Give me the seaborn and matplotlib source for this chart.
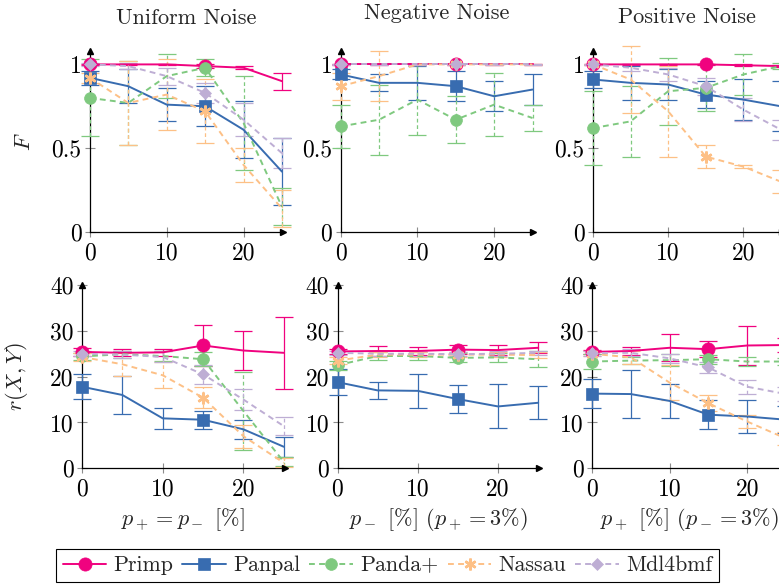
import pandas as pd
import seaborn as sns
import matplotlib.pyplot as plt
from matplotlib.lines import Line2D
from matplotlib.colors import to_hex

sns.set_theme(style="ticks", context="paper")
plt.rcParams["font.family"] = ["cmr10", "DejaVu Serif"]
plt.rcParams["mathtext.fontset"] = "cm"
plt.rcParams["axes.formatter.use_mathtext"] = True

x_vals = [0, 5, 10, 15, 20, 25]
methods = ["Primp", "Panpal", "Panda+", "Nassau", "Mdl4bmf"]
colors = {"Primp": "#f0027f", "Panpal": "#386cb0", "Panda+": "#7fc97f",
          "Nassau": "#fdc086", "Mdl4bmf": "#beaed4"}

# F score, mean and error
f_uniform = {
    "Primp": [1.0, 1.0, 1.0, 0.99, 0.98, 0.90],
    "Panpal": [0.92, 0.87, 0.76, 0.75, 0.61, 0.36],
    "Panda+": [0.80, 0.77, 0.93, 0.98, 0.65, 0.15],
    "Nassau": [0.92, 0.77, 0.82, 0.72, 0.40, 0.14],
    "Mdl4bmf": [1.0, 0.99, 0.93, 0.83, 0.67, 0.47],
}
f_uniform_err = {
    "Primp": [0.005, 0.005, 0.005, 0.01, 0.01, 0.05],
    "Panpal": [0.04, 0.10, 0.10, 0.12, 0.17, 0.20],
    "Panda+": [0.23, 0.25, 0.13, 0.05, 0.28, 0.11],
    "Nassau": [0.03, 0.25, 0.21, 0.19, 0.10, 0.11],
    "Mdl4bmf": [0.01, 0.02, 0.05, 0.06, 0.10, 0.09],
}
f_negative = {
    "Primp": [1.0, 1.0, 1.0, 1.0, 1.0, 1.0],
    "Panpal": [0.94, 0.89, 0.89, 0.87, 0.81, 0.85],
    "Panda+": [0.63, 0.67, 0.79, 0.67, 0.76, 0.68],
    "Nassau": [0.87, 0.93, 1.0, 1.0, 1.0, 1.0],
    "Mdl4bmf": [1.0, 1.0, 1.0, 1.0, 1.0, 1.0],
}
f_negative_err = {
    "Primp": [0.005, 0.005, 0.005, 0.005, 0.005, 0.005],
    "Panpal": [0.03, 0.05, 0.10, 0.09, 0.09, 0.09],
    "Panda+": [0.13, 0.21, 0.21, 0.14, 0.19, 0.08],
    "Nassau": [0.08, 0.15, 0.005, 0.005, 0.005, 0.005],
    "Mdl4bmf": [0.005, 0.005, 0.005, 0.005, 0.005, 0.005],
}
f_positive = {
    "Primp": [1.0, 1.0, 1.0, 1.0, 0.995, 0.99],
    "Panpal": [0.91, 0.89, 0.88, 0.82, 0.79, 0.75],
    "Panda+": [0.62, 0.66, 0.84, 0.86, 0.94, 0.99],
    "Nassau": [1.0, 0.91, 0.72, 0.45, 0.39, 0.30],
    "Mdl4bmf": [1.0, 0.98, 0.94, 0.87, 0.73, 0.61],
}
f_positive_err = {
    "Primp": [0.005, 0.005, 0.005, 0.005, 0.005, 0.005],
    "Panpal": [0.05, 0.10, 0.09, 0.08, 0.12, 0.15],
    "Panda+": [0.22, 0.21, 0.20, 0.14, 0.12, 0.02],
    "Nassau": [0.005, 0.20, 0.27, 0.07, 0.01, 0.07],
    "Mdl4bmf": [0.005, 0.02, 0.04, 0.05, 0.07, 0.06],
}

# r(X, Y), mean and error
r_uniform = {
    "Primp": [25.4, 25.2, 25.3, 26.8, 25.7, 25.2],
    "Panpal": [17.8, 16.0, 10.9, 10.6, 8.5, 4.7],
    "Panda+": [24.4, 24.9, 24.5, 23.8, 12.5, 1.4],
    "Nassau": [24.3, 22.7, 20.3, 15.4, 7.0, 1.2],
    "Mdl4bmf": [25.0, 24.8, 24.3, 20.5, 15.0, 9.2],
}
r_uniform_err = {
    "Primp": [0.8, 0.8, 0.8, 4.5, 4.2, 7.8],
    "Panpal": [2.7, 4.1, 2.3, 2.0, 2.0, 2.2],
    "Panda+": [0.8, 0.8, 1.0, 1.5, 8.5, 1.0],
    "Nassau": [0.8, 2.5, 2.8, 2.3, 2.5, 1.0],
    "Mdl4bmf": [0.6, 0.8, 1.2, 2.0, 2.3, 2.0],
}
r_negative = {
    "Primp": [25.5, 25.6, 25.6, 25.9, 25.8, 26.3],
    "Panpal": [18.8, 17.0, 16.9, 15.1, 13.5, 14.3],
    "Panda+": [22.5, 24.5, 24.5, 24.1, 24.2, 23.8],
    "Nassau": [23.5, 24.8, 24.8, 24.8, 24.8, 24.7],
    "Mdl4bmf": [25.2, 25.0, 25.0, 24.9, 25.0, 25.2],
}
r_negative_err = {
    "Primp": [0.5, 1.0, 0.8, 0.9, 1.0, 1.2],
    "Panpal": [2.8, 1.9, 3.7, 3.1, 4.8, 3.6],
    "Panda+": [1.0, 0.8, 0.8, 1.0, 0.9, 1.8],
    "Nassau": [0.8, 0.6, 0.6, 0.6, 0.6, 0.6],
    "Mdl4bmf": [0.4, 0.5, 0.5, 0.5, 0.5, 0.5],
}
r_positive = {
    "Primp": [25.4, 25.6, 26.3, 26.0, 26.8, 26.9],
    "Panpal": [16.3, 16.2, 14.7, 11.7, 11.3, 10.6],
    "Panda+": [23.3, 23.5, 23.6, 23.8, 23.3, 23.3],
    "Nassau": [25.0, 24.2, 18.7, 14.2, 10.2, 6.5],
    "Mdl4bmf": [25.1, 25.2, 24.0, 22.0, 17.8, 16.2],
}
r_positive_err = {
    "Primp": [0.5, 0.8, 2.9, 1.7, 4.3, 1.5],
    "Panpal": [3.1, 5.3, 3.8, 3.2, 3.6, 3.0],
    "Panda+": [1.7, 0.8, 1.3, 1.0, 0.9, 0.8],
    "Nassau": [0.5, 1.5, 3.8, 1.8, 1.4, 1.5],
    "Mdl4bmf": [0.6, 0.8, 1.0, 1.3, 1.5, 1.5],
}

titles = ["Uniform Noise", "Negative Noise", "Positive Noise"]
xlabels = [r"$p_+ = p_-$ [%]", r"$p_-$ [%] ($p_+ = 3\%$)", r"$p_+$ [%] ($p_- = 3\%$)"]

markers = {"Primp": "o", "Panpal": "s", "Panda+": "o", "Nassau": "*", "Mdl4bmf": "D"}
dash = (3, 2.2)
dashes = {"Primp": "", "Panpal": "", "Panda+": dash, "Nassau": dash, "Mdl4bmf": dash}
msizes = {"Primp": 9.5, "Panpal": 8.5, "Panda+": 8.5, "Nassau": 8.5, "Mdl4bmf": 6.5}

W, H = 779, 585
fig = plt.figure(figsize=(W / 100, H / 100), dpi=100)

# axes rectangles in pixels: left, x=0 .. x=25 width, y=0 line (from top), height
rects = [
    (89.8, 192.2, 232, 181), (340.7, 191.8, 232, 181), (593, 188, 232, 181),
    (82, 201.8, 468.3, 183.3), (337.5, 200.7, 468.3, 183.3), (592, 194, 468.3, 183.3),
]
panels = [
    (f_uniform, f_uniform_err), (f_negative, f_negative_err), (f_positive, f_positive_err),
    (r_uniform, r_uniform_err), (r_negative, r_negative_err), (r_positive, r_positive_err),
]
title_y = [1.149, 1.175, 1.155]

for i, ((means, errs), (left, width, y0, height)) in enumerate(zip(panels, rects)):
    ax = fig.add_axes([left / W, (H - y0) / H, width / W, height / H])
    top = i < 3

    for m in methods:
        eb = ax.errorbar(x_vals, means[m], yerr=errs[m], fmt="none", ecolor=colors[m],
                         elinewidth=0.9, capsize=6.5, capthick=0.9, clip_on=False, zorder=2)
        for c in eb[1]:
            c.set_clip_on(False)
        for c in eb[2]:
            c.set_clip_on(False)
            if dashes[m]:
                c.set_linestyle((0, dash))

    df = pd.DataFrame([
        {"x": x, "value": v, "method": m}
        for m in methods for x, v in zip(x_vals, means[m])
    ])
    sns.lineplot(data=df, x="x", y="value", hue="method", style="method",
                 hue_order=methods, style_order=methods, palette=colors,
                 markers=markers, dashes=dashes, markevery=[0, 3], lw=1.4,
                 errorbar=None, legend=False, clip_on=False, ax=ax, zorder=3)

    for line in ax.lines:
        col = to_hex(line.get_color())
        for m in methods:
            if to_hex(colors[m]) == col:
                line.set_markersize(msizes[m])
                line.set_markeredgecolor(colors[m])
                if m == "Nassau":
                    line.set_marker((6, 2, 0))
                    line.set_markeredgewidth(1.8)
                else:
                    line.set_markeredgewidth(0.5)

    ax.set_xlim(0, 25)
    ax.set_xticks([0, 10, 20])
    ax.set_xticklabels(["0", "10", "20"])
    if top:
        ax.set_ylim(0, 1.08)
        ax.set_yticks([0, 0.5, 1])
        ax.set_yticklabels(["0", "0.5", "1"])
        ax.text(0.5, title_y[i], titles[i], transform=ax.transAxes,
                ha="center", va="baseline", fontsize=16)
        ax.set_xlabel("")
    else:
        ax.set_ylim(0, 40)
        ax.set_yticks([0, 10, 20, 30, 40])
        ax.set_yticklabels(["0", "10", "20", "30", "40"])
        ax.set_xlabel(xlabels[i - 3], fontsize=16, labelpad=4)

    for s in ["top", "right"]:
        ax.spines[s].set_visible(False)
    for s in ["left", "bottom"]:
        ax.spines[s].set_color("black")
        ax.spines[s].set_linewidth(0.9)
        ax.spines[s].set_zorder(1)
    ax.tick_params(direction="inout", length=7, width=0.8, color="0.55",
                   labelsize=17, labelcolor="black")
    ax.tick_params(axis="x", pad=4)
    ax.tick_params(axis="y", pad=2.5)
    ax.plot(1.005, 0, ">", color="black", ms=5, transform=ax.transAxes, clip_on=False)
    ax.plot(0, 1.0, "^", color="black", ms=5, transform=ax.transAxes, clip_on=False)

    if i == 0:
        ax.set_ylabel(r"$F$", fontsize=16)
        ax.yaxis.set_label_coords(-0.29, 0.5)
    elif i == 3:
        ax.set_ylabel(r"$r(X, Y)$", fontsize=16)
        ax.yaxis.set_label_coords(-0.26, 0.5)
    else:
        ax.set_ylabel("")

handles = []
for m in methods:
    mk = (6, 2, 0) if m == "Nassau" else markers[m]
    h = Line2D([], [], color=colors[m], lw=1.4, marker=mk, ms=msizes[m],
               mec=colors[m], mew=1.8 if m == "Nassau" else 0.5)
    if dashes[m]:
        h.set_dashes(dash)
    handles.append(h)

fig.legend(handles, methods, loc="lower left", bbox_to_anchor=(56 / W, 3 / H),
           ncol=5, fontsize=15.8, frameon=True, fancybox=False, edgecolor="black",
           framealpha=1, handlelength=2.0, handletextpad=0.32, columnspacing=0.41,
           borderpad=0.3, borderaxespad=0, numpoints=1)

fig.savefig("out.png", dpi=100)
